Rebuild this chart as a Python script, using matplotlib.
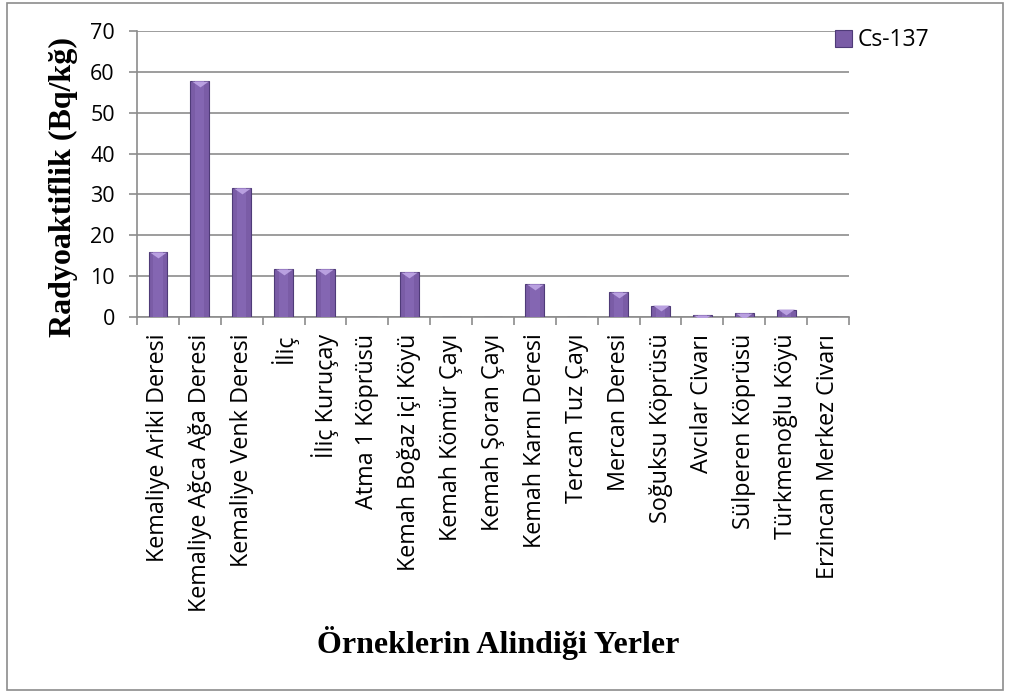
import numpy as np
import matplotlib.pyplot as plt
from matplotlib.patches import Rectangle

# Veriler
yerler = ["Kemaliye Ariki Deresi", "Kemaliye Ağca Ağa Deresi", "Kemaliye Venk Deresi",
          "İliç", "İliç Kuruçay", "Atma 1 Köprüsü", "Kemah Boğaz içi Köyü",
          "Kemah Kömür Çayı", "Kemah Şoran Çayı", "Kemah Karnı Deresi",
          "Tercan Tuz Çayı", "Mercan Deresi", "Soğuksu Köprüsü", "Avcılar Civarı",
          "Sülperen Köprüsü", "Türkmenoğlu Köyü", "Erzincan Merkez Civarı"]
cs137 = [15.8, 57.8, 31.6, 11.8, 11.8, 0, 11.0, 0, 0, 8.1, 0, 6.0, 2.8, 0.5, 1.0, 1.8, 0]
yticks = [0, 10, 20, 30, 40, 50, 60, 70]

fig = plt.figure(figsize=(10.11, 6.93), dpi=100)
ax = fig.add_axes([0.1355, 0.5426, 0.7043, 0.4127])

x = np.arange(len(yerler))
ax.bar(x, cs137, width=0.45, color='#7a5ca6', edgecolor='#4f3b78', linewidth=0.8,
       zorder=3, label='Cs-137')
ax.bar(x, cs137, width=0.22, color='#8466b2', linewidth=0, zorder=3)
# ust kisimdaki acik renkli ucgen
tri = [(-1, 0.35), (1, 0.35), (0, -0.35), (-1, 0.35)]
for xi, v in zip(x, cs137):
    if v > 0:
        ax.plot(xi, v - 0.7, marker=tri, markersize=12, color='#b9a0e0',
                markeredgewidth=0, zorder=4)

ax.set_xlim(-0.5, len(yerler) - 0.5)
ax.set_ylim(0, 70)
ax.set_yticks(yticks)
ax.yaxis.grid(True, color='#8c8c8c', linewidth=1.2, zorder=0)
ax.set_axisbelow(True)

ax.set_xticks(np.arange(len(yerler) + 1) - 0.5, minor=False)
ax.set_xticklabels([])
ax.set_xticks(x, minor=True)
ax.set_xticklabels(yerler, minor=True, rotation=90, family='Open Sans', fontsize=16.8)
ax.tick_params(axis='x', which='minor', length=0, pad=12)
ax.tick_params(axis='x', which='major', length=6, color='#8c8c8c', width=1.2)
ax.tick_params(axis='y', length=6, color='#8c8c8c', width=1.2, labelsize=15.5, pad=10)
for lab in ax.get_yticklabels():
    lab.set_family('Open Sans')

for s in ['top', 'right']:
    ax.spines[s].set_visible(False)
for s in ['left', 'bottom']:
    ax.spines[s].set_color('#8c8c8c')
    ax.spines[s].set_linewidth(1.2)

ax.set_ylabel('Radyoaktiflik (Bq/kğ)', family='Liberation Serif', fontweight='bold',
              fontsize=23)
ax.yaxis.set_label_coords(-0.083, 0.455)
fig.text(0.493, 0.072, 'Örneklerin Alindiği Yerler', family='Liberation Serif',
         fontweight='bold', fontsize=23, ha='center', va='center')

fig.legend(loc='center left', bbox_to_anchor=(0.826, 0.942), frameon=False,
           prop={'family': 'Open Sans', 'size': 16.5}, handlelength=0.75,
           handleheight=0.75, handletextpad=0.25, borderpad=0, borderaxespad=0)

fig.patches.append(Rectangle((0.007, 0.0043), 0.985, 0.9914, transform=fig.transFigure,
                             fill=False, edgecolor='#8c8c8c', linewidth=1.2))

fig.savefig('out.png', dpi=100)
